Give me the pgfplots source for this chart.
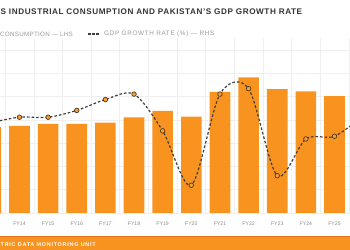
\documentclass[border=0pt]{standalone}
\usepackage{pgfplots}
\pgfplotsset{compat=1.18}
\usepackage{fontspec}
\setmainfont{Liberation Sans}

\definecolor{barorange}{HTML}{F7931E}
\definecolor{bandline}{HTML}{E8701A}
\definecolor{linegray}{HTML}{3D3D3D}
\definecolor{mkedge}{HTML}{4A3A22}
\definecolor{titlegray}{HTML}{333333}
\definecolor{legendgray}{HTML}{9A9A9A}
\definecolor{tickgray}{HTML}{8A8A8A}
\definecolor{gridgray}{HTML}{EFEFEF}

\begin{document}
\begin{tikzpicture}
\useasboundingbox (0,0) rectangle (350bp,250bp);

% industrial electricity consumption (bars, left scale)
\begin{axis}[
  at={(0bp,37bp)}, anchor=south west,
  scale only axis, width=350bp, height=174.75bp,
  xmin=0.32, xmax=12.541,
  ymin=0, ymax=15,
  axis line style={draw=none},
  major tick style={draw=none}, minor tick style={draw=none},
  xtick={1,...,12},
  xticklabels={FY14,FY15,FY16,FY17,FY18,FY19,FY20,FY21,FY22,FY23,FY24,FY25},
  xticklabel style={font=\fontsize{5.2}{6}\selectfont, text=tickgray, yshift=-1.5bp},
  minor xtick={0.5,1.5,...,12.5},
  xminorgrids,
  ytick={0,2,...,14}, yticklabels={},
  ymajorgrids,
  grid style={gridgray, line width=0.5pt},
  minor grid style={gridgray, line width=0.5pt},
  ybar, bar width=0.72,
]
\addplot[fill=barorange, draw=none] coordinates {
  (0,7.38) (1,7.47) (2,7.64) (3,7.64) (4,7.75) (5,8.21) (6,8.76)
  (7,8.27) (8,10.39) (9,11.65) (10,10.64) (11,10.45) (12,10.04)
};
\end{axis}

% GDP growth rate, % (dashed line, right scale)
\begin{axis}[
  at={(0bp,37bp)}, anchor=south west,
  scale only axis, width=350bp, height=174.75bp,
  xmin=0.32, xmax=12.541,
  ymin=-2.941, ymax=9.908,
  hide axis,
]
\addplot[smooth, linegray, line width=1.2pt, dash pattern=on 2.6pt off 2pt,
  mark=*, mark size=2.3pt,
  mark options={solid, fill=barorange!90!white, draw=mkedge, line width=0.7pt}]
coordinates {
  (0,3.7) (1,4.1) (2,4.1) (3,4.6) (4,5.4) (5,5.8) (6,3.1)
  (7,-0.9) (8,5.8) (9,6.2) (10,-0.2) (11,2.5) (12,2.7) (13,4.2)
};
\end{axis}

% title and key
\node[anchor=west, inner sep=0pt, text=titlegray,
  font=\fontsize{8.2}{9}\selectfont\bfseries\addfontfeature{LetterSpace=7}] at (0.5bp,238bp)
  {S INDUSTRIAL CONSUMPTION AND PAKISTAN'S GDP GROWTH RATE};
\node[anchor=west, inner sep=0pt, text=legendgray,
  font=\fontsize{6.3}{7}\selectfont\addfontfeature{LetterSpace=4}] at (0bp,216bp)
  {CONSUMPTION --- LHS};
\draw[linegray, line width=1.1pt, dash pattern=on 2.6pt off 1.6pt]
  (88bp,216bp) -- (100bp,216bp);
\node[anchor=west, inner sep=0pt, text=legendgray,
  font=\fontsize{6.4}{7}\selectfont\addfontfeature{LetterSpace=10}] at (104bp,216bp)
  {GDP GROWTH RATE (\%) --- RHS};

% footer band
\fill[barorange] (0,0) rectangle (350bp,13bp);
\fill[bandline] (0,13bp) rectangle (350bp,13.8bp);
\node[anchor=west, inner sep=0pt, text=white,
  font=\fontsize{5.5}{6}\selectfont\bfseries\addfontfeature{LetterSpace=13}] at (0.5bp,5.5bp)
  {TRIC DATA MONITORING UNIT};
\end{tikzpicture}
\end{document}
